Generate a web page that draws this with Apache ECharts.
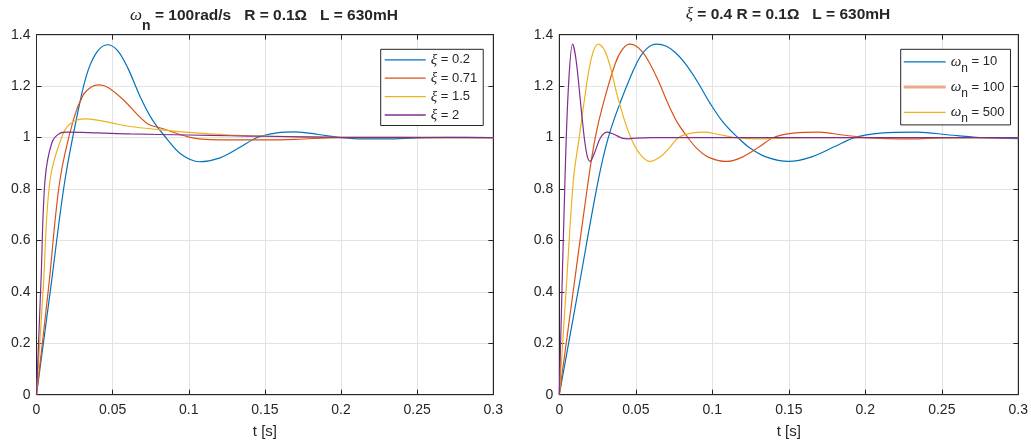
<!DOCTYPE html>
<html>
<head>
<meta charset="utf-8">
<script src="https://cdn.jsdelivr.net/npm/echarts@6/dist/echarts.min.js"></script>
<style>
  html, body { margin: 0; padding: 0; background: #fff; }
  #chart { width: 1031px; height: 442px; }
</style>
</head>
<body>
<div id="chart"></div>
<script>
// time ticks and value ticks
var tTicks = [0, 0.05, 0.1, 0.15, 0.2, 0.25, 0.3];
var vTicks = [0, 0.2, 0.4, 0.6, 0.8, 1, 1.2, 1.4];

// left plot, wn = 100 rad/s, [t, value]
var xi02 = [[0,0],[0.009,0.4],[0.0187,0.835],[0.0286,1.14],[0.034,1.263],[0.04,1.335],[0.0465,1.361],[0.053,1.34],[0.06,1.27],[0.068,1.16],[0.076,1.07],[0.085,1.0],[0.095,0.935],[0.107,0.906],[0.12,0.92],[0.133,0.96],[0.145,1.0],[0.158,1.018],[0.17,1.022],[0.185,1.012],[0.2,1.0],[0.215,0.995],[0.23,0.995],[0.25,0.999],[0.27,1.001],[0.3,1.0]];
var xi071 = [[0,0],[0.008,0.42],[0.0154,0.835],[0.0242,1.069],[0.0307,1.166],[0.036,1.197],[0.041,1.205],[0.047,1.195],[0.057,1.147],[0.0724,1.056],[0.0822,1.036],[0.1008,1.001],[0.115,0.992],[0.127,0.991],[0.15,0.991],[0.17,0.993],[0.2,1.0],[0.25,1.0],[0.3,1.0]];
var xi15 = [[0,0],[0.0045,0.42],[0.0089,0.835],[0.0176,1.017],[0.0242,1.062],[0.0318,1.073],[0.04,1.068],[0.05,1.056],[0.0614,1.043],[0.0822,1.03],[0.1,1.02],[0.127,1.01],[0.15,1.006],[0.2,1.001],[0.3,1.0]];
var xi2 = [[0,0],[0.003,0.45],[0.0056,0.835],[0.01,0.978],[0.0154,1.017],[0.02,1.021],[0.04,1.018],[0.0614,1.014],[0.1,1.01],[0.127,1.007],[0.15,1.005],[0.2,1.001],[0.3,1.0]];

// right plot, xi = 0.4, [t, value]
var wn10 = [[0,0],[0.0128,0.42],[0.0255,0.835],[0.032,1.0],[0.0397,1.134],[0.0506,1.29],[0.057,1.345],[0.0636,1.363],[0.07,1.355],[0.076,1.33],[0.082,1.29],[0.09,1.22],[0.0985,1.134],[0.107,1.06],[0.116,1.004],[0.1246,0.959],[0.135,0.925],[0.15,0.907],[0.165,0.925],[0.18,0.965],[0.193,1.0],[0.21,1.017],[0.234,1.021],[0.255,1.01],[0.275,1.0],[0.3,0.996]];
var wn100 = [[0,0],[0.0095,0.42],[0.019,0.835],[0.0235,1.0],[0.0288,1.134],[0.0367,1.29],[0.0415,1.345],[0.0462,1.363],[0.0504,1.355],[0.0547,1.33],[0.059,1.29],[0.0648,1.22],[0.0709,1.134],[0.077,1.06],[0.0835,1.004],[0.0897,0.959],[0.097,0.925],[0.1094,0.907],[0.12,0.925],[0.131,0.965],[0.14,1.0],[0.153,1.017],[0.17,1.021],[0.185,1.01],[0.2,1.0],[0.215,0.996],[0.23,0.995],[0.25,0.999],[0.3,1.0]];
var wn500 = [[0,0],[0.0046,0.42],[0.0092,0.835],[0.013,1.0],[0.0165,1.15],[0.021,1.31],[0.0255,1.363],[0.0285,1.35],[0.031,1.32],[0.034,1.26],[0.0375,1.173],[0.043,1.06],[0.0484,0.978],[0.0535,0.93],[0.0593,0.907],[0.066,0.925],[0.072,0.96],[0.078,1.0],[0.087,1.018],[0.095,1.021],[0.104,1.012],[0.115,1.0],[0.13,0.995],[0.145,0.998],[0.16,1.0],[0.3,1.0]];
var wnFast = [[0,0],[0.0037,0.835],[0.006,1.2],[0.0087,1.363],[0.011,1.3],[0.0146,1.095],[0.0175,0.95],[0.0201,0.907],[0.023,0.94],[0.027,1.0],[0.0314,1.021],[0.036,1.012],[0.041,0.998],[0.0451,0.995],[0.05,0.998],[0.06,1.0],[0.3,1.0]];

var leftNames = ['ξ = 0.2', 'ξ = 0.71', 'ξ = 1.5', 'ξ = 2'];
var rightNames = ['ωn = 10', 'ωn = 100', 'ωn = 500', 'ωn = fast'];
var colors = ['#0072BD', '#D95319', '#EDB120', '#7E2F8E'];

var textCol = '#262626';
var font = 'Liberation Sans, Arial, sans-serif';
var greek = 'Liberation Serif, serif';

var chart = echarts.init(document.getElementById('chart'));

function xAx(gi, top) {
  return {
    type: 'value', gridIndex: gi, min: 0, max: 0.3, interval: 0.05,
    position: top ? 'top' : 'bottom',
    name: top ? '' : 't [s]', nameLocation: 'middle', nameGap: 30,
    nameTextStyle: { color: textCol, fontSize: 15, fontFamily: font },
    axisLine: { show: true, onZero: false, lineStyle: { color: textCol, width: 1 } },
    axisTick: { show: true, inside: true, length: 5, lineStyle: { color: textCol } },
    axisLabel: { show: !top, color: textCol, fontSize: 14, fontFamily: font, margin: 8 },
    splitLine: { show: !top, lineStyle: { color: '#e3e3e3', width: 1 } }
  };
}
function yAx(gi, right) {
  return {
    type: 'value', gridIndex: gi, min: 0, max: 1.4, interval: 0.2,
    position: right ? 'right' : 'left',
    axisLine: { show: true, onZero: false, lineStyle: { color: textCol, width: 1 } },
    axisTick: { show: true, inside: true, length: 5, lineStyle: { color: textCol } },
    axisLabel: { show: !right, color: textCol, fontSize: 14, fontFamily: font, margin: 6 },
    splitLine: { show: !right, lineStyle: { color: '#e3e3e3', width: 1 } }
  };
}

function line(name, data, color, xi, yi) {
  return {
    name: name, type: 'line', data: data, xAxisIndex: xi, yAxisIndex: yi,
    symbol: 'none', smooth: 0.35, animation: false,
    lineStyle: { color: color, width: 1.2 }, itemStyle: { color: color }
  };
}

var titleRich = {
  w: { fontFamily: greek, fontStyle: 'italic', fontSize: 17, fontWeight: 'normal', color: textCol, lineHeight: 20 },
  n: { fontFamily: font, fontSize: 14, fontWeight: 'bold', color: textCol, lineHeight: 13, padding: [20, 0, 0, 0] },
  t: { fontFamily: font, fontSize: 15.5, fontWeight: 'bold', color: textCol, lineHeight: 20 }
};

var thinIcon = 'path://M0,0H41V1.3H0Z';
var thickIcon = 'path://M0,0H42V3H0Z';

var option = {
  backgroundColor: '#fff',
  animation: false,
  title: [
    { text: '{w|ω}{n|n}{t| = 100rad/s   R = 0.1Ω   L = 630mH}', left: 264, top: 6, textAlign: 'center', padding: 0,
      textStyle: { rich: titleRich } },
    { text: '{w|ξ}{t| = 0.4 R = 0.1Ω   L = 630mH}', left: 788, top: 5, textAlign: 'center', padding: 0,
      textStyle: { rich: titleRich } }
  ],
  grid: [
    { left: 36.5, top: 34.7, width: 456.8, height: 360, show: true, borderColor: textCol, borderWidth: 1,
      containLabel: false, outerBoundsMode: 'none' },
    { left: 559.3, top: 34.7, width: 459, height: 360, show: true, borderColor: textCol, borderWidth: 1,
      containLabel: false, outerBoundsMode: 'none' }
  ],
  xAxis: [xAx(0, false), xAx(1, false), xAx(0, true), xAx(1, true)],
  yAxis: [yAx(0, false), yAx(1, false), yAx(0, true), yAx(1, true)],
  legend: [
    {
      data: leftNames.map(function (n) { return { name: n, icon: thinIcon }; }),
      orient: 'vertical', left: 380.7, top: 49.3,
      padding: [3, 6, 3, 4], itemGap: 3.4, itemWidth: 41, itemHeight: 14,
      borderColor: textCol, borderWidth: 1, backgroundColor: '#fff',
      selectedMode: false,
      formatter: function (name) { return '{g|ξ}{t|' + name.slice(1) + '}'; },
      textStyle: {
        color: textCol, fontSize: 13, fontFamily: font,
        rich: {
          g: { fontFamily: greek, fontStyle: 'italic', fontSize: 15, color: textCol, lineHeight: 14 },
          t: { fontFamily: font, fontSize: 13, color: textCol, lineHeight: 14 }
        }
      }
    },
    {
      data: [
        { name: rightNames[0], icon: thinIcon },
        { name: rightNames[1], icon: thickIcon, itemStyle: { color: '#EFA88A' } },
        { name: rightNames[2], icon: thinIcon }
      ],
      orient: 'vertical', left: 900.7, top: 49.3,
      padding: [0, 6, 0, 3], itemGap: 0.3, itemWidth: 42, itemHeight: 14,
      borderColor: textCol, borderWidth: 1, backgroundColor: '#fff',
      selectedMode: false,
      formatter: function (name) { return '{w|ω}{n|n}{t|' + name.slice(2) + '}'; },
      textStyle: {
        color: textCol, fontSize: 13, fontFamily: font,
        rich: {
          w: { fontFamily: greek, fontStyle: 'italic', fontSize: 15, color: textCol, lineHeight: 14 },
          n: { fontFamily: font, fontSize: 12, color: textCol, lineHeight: 10, padding: [13, 0, 0, 0] },
          t: { fontFamily: font, fontSize: 13, color: textCol, lineHeight: 14 }
        }
      }
    }
  ],
  series: [
    line(leftNames[0], xi02, colors[0], 0, 0),
    line(leftNames[1], xi071, colors[1], 0, 0),
    line(leftNames[2], xi15, colors[2], 0, 0),
    line(leftNames[3], xi2, colors[3], 0, 0),
    line(rightNames[0], wn10, colors[0], 1, 1),
    line(rightNames[1], wn100, colors[1], 1, 1),
    line(rightNames[2], wn500, colors[2], 1, 1),
    line(rightNames[3], wnFast, colors[3], 1, 1)
  ]
};

chart.setOption(option);
</script>
</body>
</html>
